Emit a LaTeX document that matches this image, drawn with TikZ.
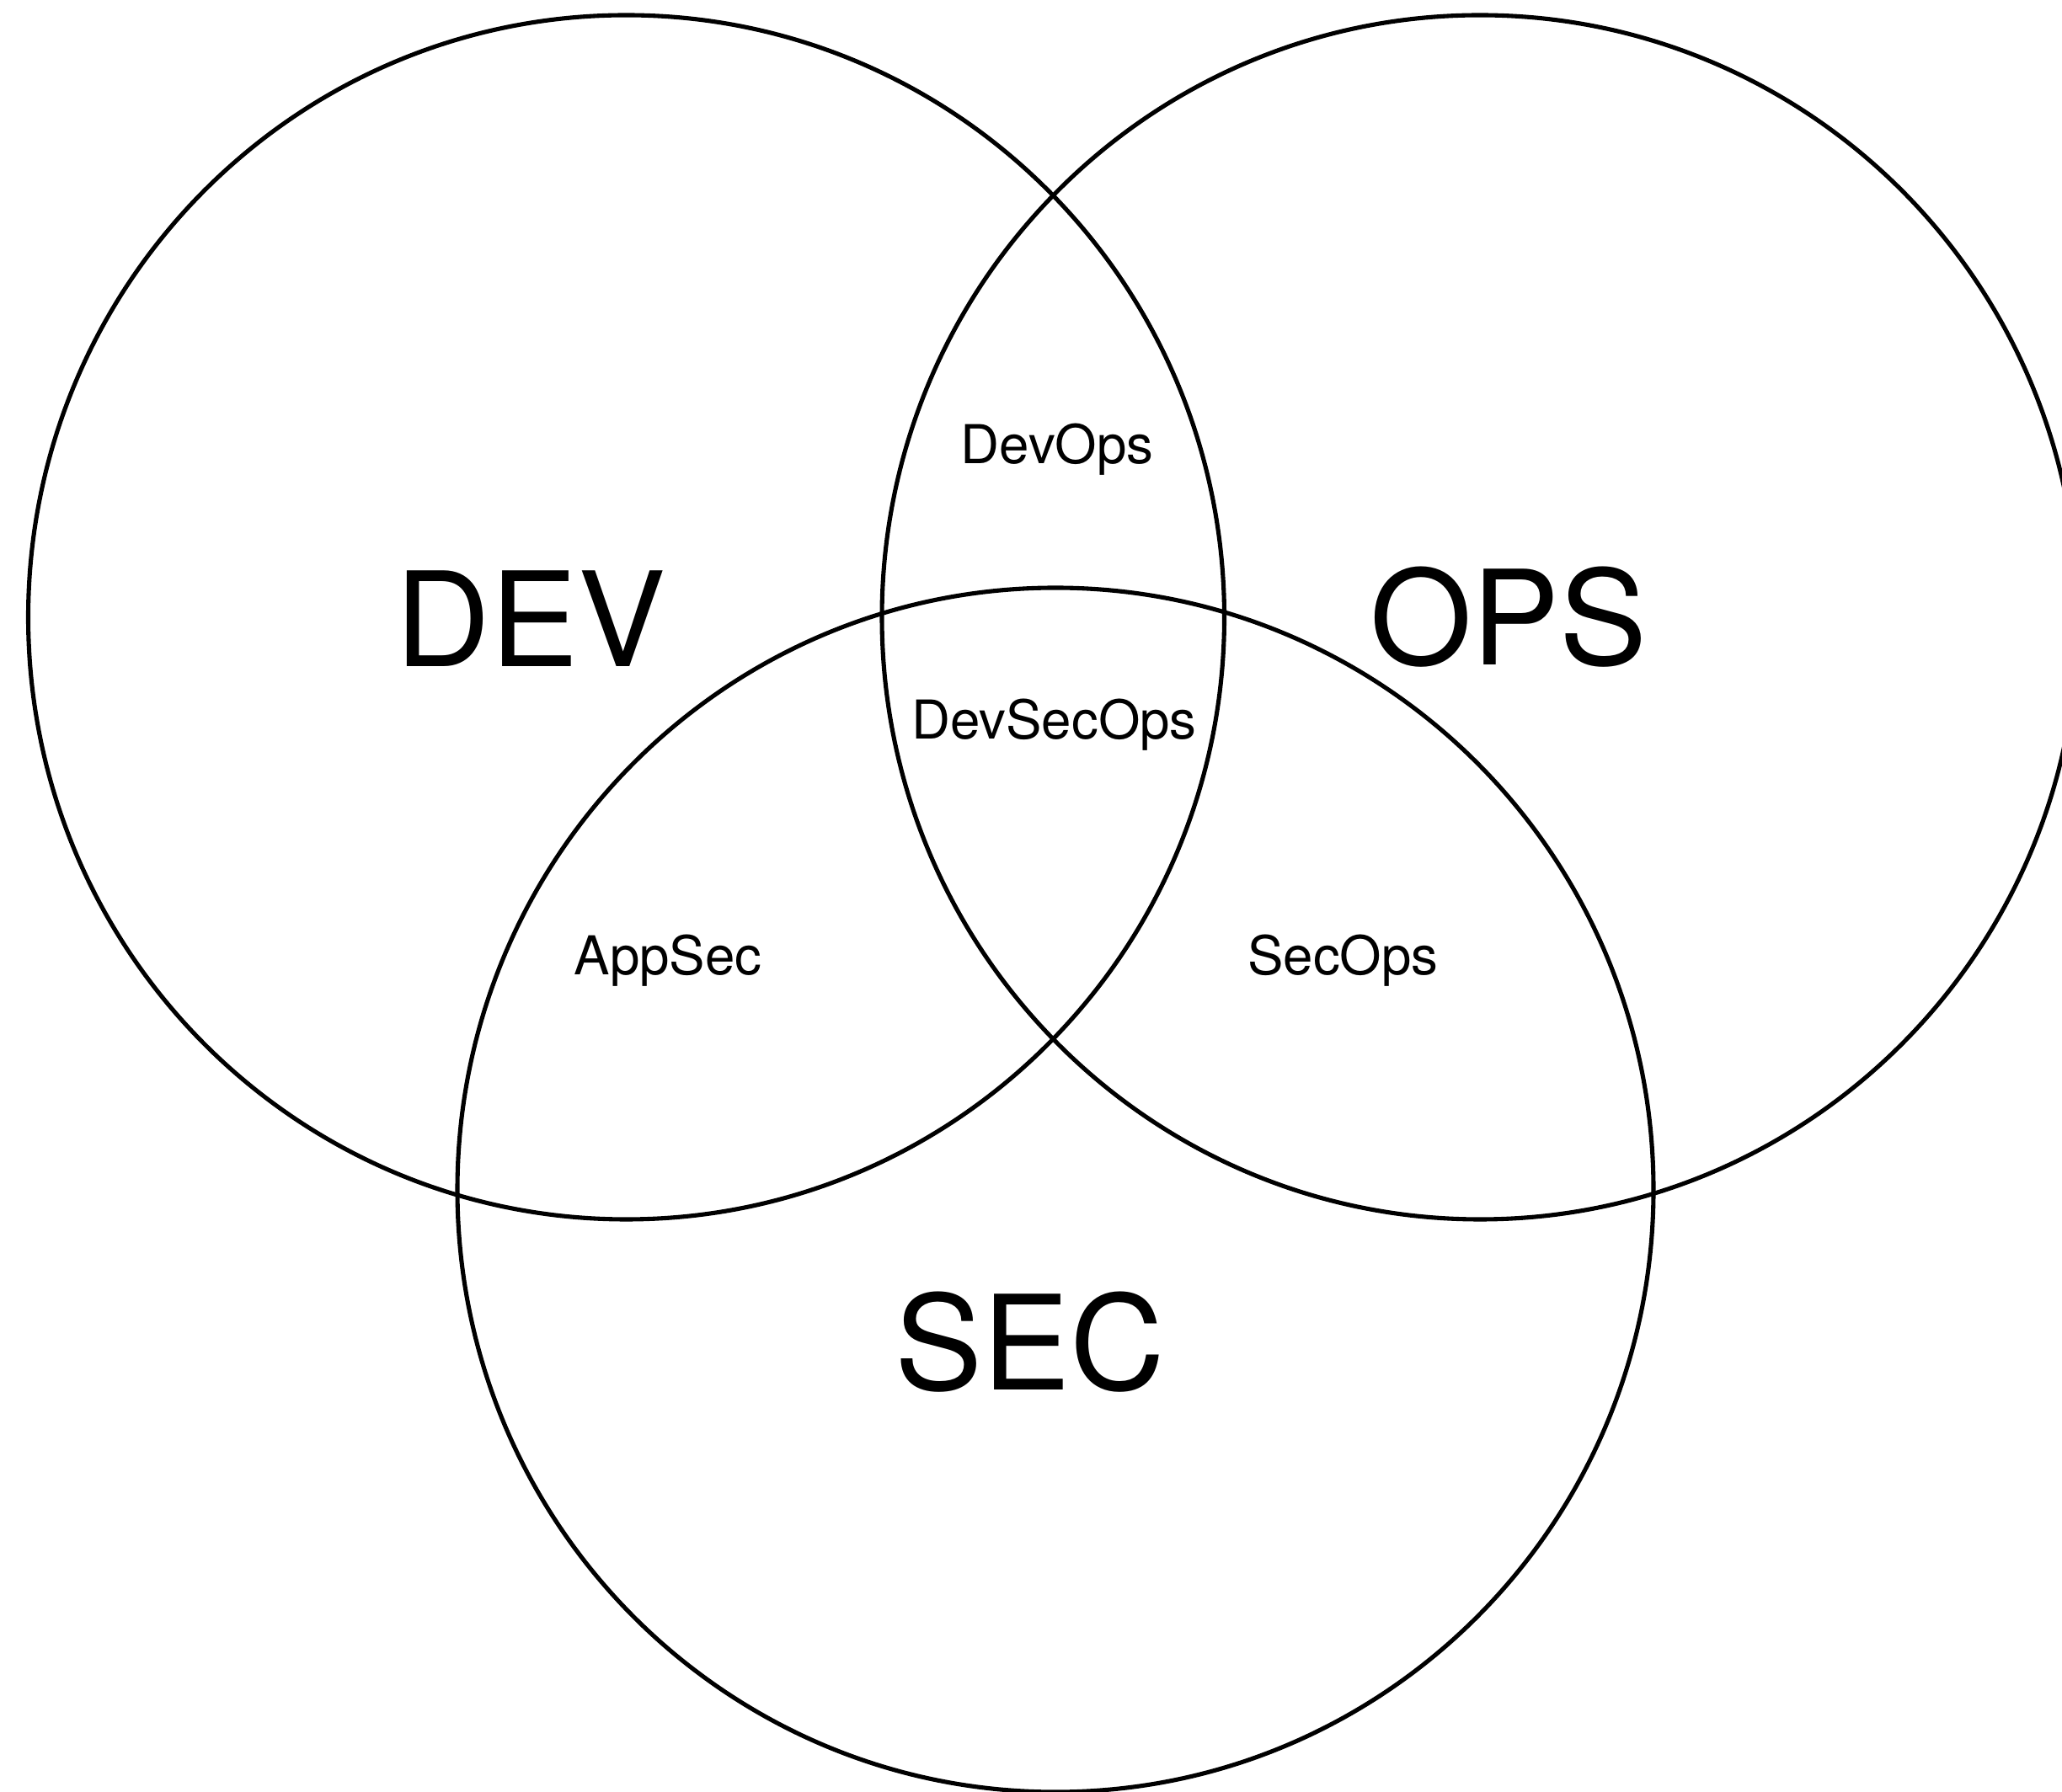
\documentclass[tikz,border=0pt]{standalone}
\usepackage{fontspec}
\setmainfont{TeX Gyre Heros}
\begin{document}
\begin{tikzpicture}[
  ring/.style={draw=black, line width=1.45pt},
  biglabel/.style={inner sep=0pt, anchor=base, font=\fontsize{44.4pt}{50pt}\selectfont},
  smalllabel/.style={inner sep=0pt, anchor=base, font=\fontsize{18.1pt}{22pt}\selectfont}
]
\useasboundingbox (0,0) rectangle (24.48,21.27);
\clip (0,0) rectangle (24.48,21.27);
\fill[white] (0,0) rectangle (24.48,21.27);

% centres of the three sets
\coordinate (cdev) at (7.435,13.94);
\coordinate (cops) at (17.57,13.94);
\coordinate (csec) at (12.53,7.14);

% the three sets
\draw[ring] (cdev) ellipse [x radius=7.10, y radius=7.15];
\draw[ring] (cops) ellipse [x radius=7.10, y radius=7.15];
\draw[ring] (csec) ellipse [x radius=7.10, y radius=7.15];

% set names
\node[biglabel] (dev) at (6.30,13.35) {DEV};
\node[biglabel] (ops) at (17.91,13.37) {OPS};
\node[biglabel] (sec) at (12.225,4.77) {SEC};

% overlaps
\node[smalllabel] (devops) at (12.55,15.76) {DevOps};
\node[smalllabel] (devsecops) at (12.515,12.49) {DevSecOps};
\node[smalllabel] (appsec) at (7.93,9.69) {AppSec};
\node[smalllabel] (secops) at (15.945,9.69) {SecOps};
\end{tikzpicture}
\end{document}
